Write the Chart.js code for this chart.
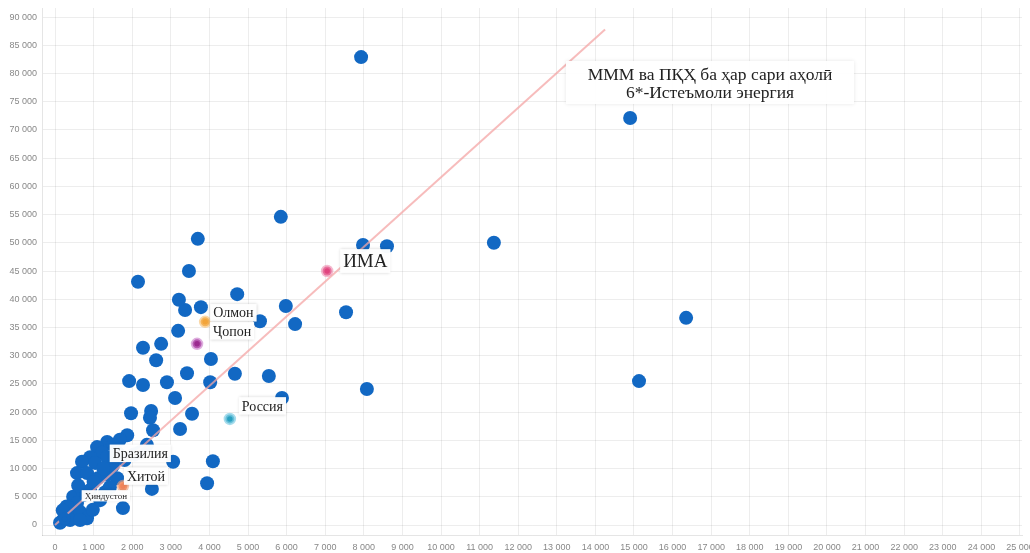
<!DOCTYPE html>
<html><head><meta charset="utf-8">
<script src="https://cdn.jsdelivr.net/npm/chart.js@4/dist/chart.umd.min.js"></script>
<style>html,body{margin:0;padding:0;background:#fff;overflow:hidden}#wrap{width:1030px;height:553px;position:relative}</style>
</head><body><div id="wrap"><canvas id="c" width="1030" height="553"></canvas></div>
<script>
// ---- data ----
const countryX = [7930,14900,16350,15130,11370,8600,7980,8080,7540,5850,5980,6220,5540,5880,5310,4720,3780,3370,3210,3470,3700,2150,3190,2280,2750,2620,4040,3420,4660,1920,2280,2900,4020,3110,1970,2490,2460,3550,2540,3240,1870,1680,4090,3060,3940,2510,1760,2380,2200,
  1350,1500,1090,1220,910,700,1040,1350,1610,570,830,1110,1350,1610,1420,470,730,570,390,310,470,650,210,830,130,390,650,980,1170,910,1500,1250,1800,2050,1000,1300,600,300,200];
const countryY = [82900,72100,36700,25500,50000,49400,49600,24100,37700,54600,38800,35600,26400,22500,36100,40900,38600,38100,39900,45000,50700,43100,34400,31400,32100,29200,29400,26900,26800,25500,24800,25300,25300,22500,19800,20200,19000,19700,16800,17000,15900,15100,11300,11200,7400,6400,3000,14200,12900,
  14700,14200,13800,12800,12000,11200,11000,12000,12800,9200,9200,8300,8900,8300,6700,5000,5300,3900,3000,1800,2100,2300,900,1200,400,900,900,2700,4400,6200,10500,10000,11500,12500,7600,5800,7000,3300,2600];
const namedLabels = ['ИМА','Олмон','Ҷопон','Россия','Бразилия','Хитой','Ҳиндустон'];
const namedX = [7050,3890,3680,4530,1650,1760,250];
const namedY = [45000,36000,32100,18800,12700,6900,1100];
const trendX = [0,14250];
const trendY = [0,87800];
const xTicks = [0,1000,2000,3000,4000,5000,6000,7000,8000,9000,10000,11000,12000,13000,14000,15000,16000,17000,18000,19000,20000,21000,22000,23000,24000,25000];
const yTicks = [0,5000,10000,15000,20000,25000,30000,35000,40000,45000,50000,55000,60000,65000,70000,75000,80000,85000,90000];
const titleLines = ['МММ ва ПҚҲ ба ҳар сари аҳолӣ','6*-Истеъмоли энергия'];

// ---- styles ----
const labelStyle = {
  'ИМА':      {dx:16, dy:-10, size:19, dot:'#e0457f', halo:'rgba(236,140,175,0.6)'},
  'Олмон':    {dx:8,  dy:-9,  size:14, dot:'#f2a43a', halo:'rgba(246,190,110,0.6)'},
  'Ҷопон':    {dx:16, dy:-13, size:14, dot:'#9b2a8f', halo:'rgba(200,120,200,0.6)'},
  'Россия':   {dx:12, dy:-13, size:14, dot:'#2aa0c0', halo:'rgba(130,205,228,0.7)'},
  'Бразилия': {dx:-6, dy:0,   size:14, dot:'#1268c3', halo:'#1268c3'},
  'Хитой':    {dx:4,  dy:-10, size:14, dot:'#f0845a', halo:'rgba(245,160,120,0.6)'},
  'Ҳиндустон':{dx:20, dy:-23, size:9,  dot:'#1268c3', halo:'#1268c3'}
};
const fmt = v => String(v).replace(/\B(?=(\d{3})+(?!\d))/g, ' ');

const labelPlugin = {
  id:'labels',
  afterDatasetsDraw(chart){
    const ctx = chart.ctx, xs = chart.scales.x, ys = chart.scales.y;
    ctx.save();
    namedLabels.forEach((n,i)=>{
      const st = labelStyle[n];
      const px = xs.getPixelForValue(namedX[i]) + st.dx;
      const py = ys.getPixelForValue(namedY[i]) + st.dy;
      ctx.font = st.size + 'px "Liberation Serif", "DejaVu Serif", serif';
      const w = ctx.measureText(n).width;
      const h = st.size * 1.25;
      ctx.shadowColor = 'rgba(0,0,0,0.18)';
      ctx.shadowBlur = 3;
      ctx.fillStyle = 'rgba(255,255,255,0.97)';
      ctx.fillRect(px - 3, py - h/2, w + 6, h);
      ctx.shadowBlur = 0; ctx.shadowColor = 'transparent';
      ctx.fillStyle = '#222';
      ctx.textBaseline = 'middle';
      ctx.textAlign = 'left';
      ctx.fillText(n, px, py + 1);
    });
    // title box
    ctx.font = '17.5px "Liberation Serif", "DejaVu Serif", serif';
    ctx.shadowColor = 'rgba(0,0,0,0.10)';
    ctx.shadowBlur = 4;
    ctx.fillStyle = 'rgba(255,255,255,0.97)';
    ctx.fillRect(566, 61, 288, 43);
    ctx.shadowBlur = 0; ctx.shadowColor = 'transparent';
    ctx.fillStyle = '#222';
    ctx.textAlign = 'center';
    ctx.textBaseline = 'middle';
    ctx.fillText(titleLines[0], 710, 75);
    ctx.fillText(titleLines[1], 710, 93);
    ctx.restore();
  }
};

new Chart(document.getElementById('c'), {
  type:'scatter',
  data:{
    datasets:[
      {label:'countries', data: countryX.map((x,i)=>({x, y:countryY[i]})),
       backgroundColor:'#1268c3', borderColor:'#1268c3', pointRadius:7, borderWidth:0, order:3},
      {label:'trend', type:'line', data: trendX.map((x,i)=>({x, y:trendY[i]})),
       borderColor:'rgba(244,165,165,0.75)', borderWidth:2, pointRadius:0, fill:false, order:2},
      {label:'named', data: namedX.map((x,i)=>({x, y:namedY[i]})),
       backgroundColor: namedLabels.map(n=>labelStyle[n].dot),
       borderColor: namedLabels.map(n=>labelStyle[n].halo),
       pointRadius:4.5, borderWidth:3.5, order:1}
    ]
  },
  options:{
    responsive:false, animation:false, devicePixelRatio:1,
    layout:{padding:{top:8,right:8,left:0,bottom:0}},
    plugins:{legend:{display:false}, tooltip:{enabled:false}},
    scales:{
      x:{type:'linear', min:-337, max:25052,
        afterBuildTicks(s){ s.ticks = xTicks.map(v=>({value:v})); },
        afterFit(s){ s.height = 18; s.paddingLeft = 0; s.paddingRight = 0; },
        grid:{color:'rgba(0,0,0,0.07)', drawTicks:false},
        border:{color:'rgba(0,0,0,0.1)'},
        ticks:{padding:7, color:'#888', font:{family:'"Liberation Sans", Arial, sans-serif', size:9}, maxRotation:0, autoSkip:false, callback:v=>fmt(v)}
      },
      y:{type:'linear', min:-1770, max:91600,
        afterBuildTicks(s){ s.ticks = yTicks.map(v=>({value:v})); },
        afterFit(s){ s.width = 42; s.paddingTop = 0; s.paddingBottom = 0; },
        grid:{color:'rgba(0,0,0,0.07)', drawTicks:false},
        border:{color:'rgba(0,0,0,0.1)'},
        ticks:{padding:5, color:'#888', font:{family:'"Liberation Sans", Arial, sans-serif', size:9}, autoSkip:false, callback:v=>fmt(v)}
      }
    }
  },
  plugins:[labelPlugin]
});
</script></body></html>
